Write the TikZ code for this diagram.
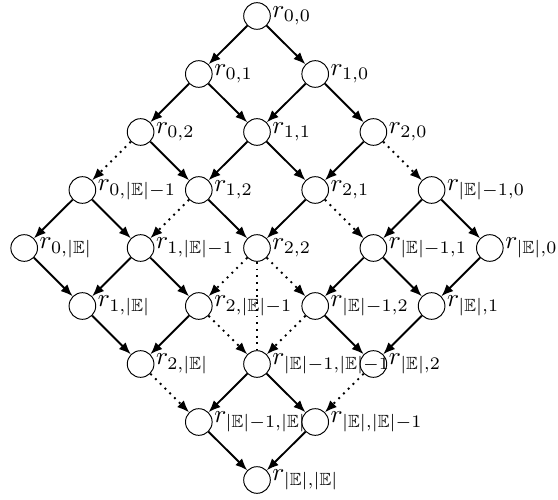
\documentclass[tikz,border=0pt]{standalone}
\usepackage{graphicx}
\usepackage{amssymb}
\usetikzlibrary{arrows.meta}
\newcommand{\EE}{|\mathbb{E}|}
\newcommand{\lab}[1]{\scalebox{1.05}{$#1$}}
\begin{document}
\begin{tikzpicture}[x=0.41667pt,y=-0.41667pt,
  st/.style={circle,draw,line width=0.4pt,minimum size=11.1pt,inner sep=0pt},
  lb/.style={inner sep=0.5pt},
  ar/.style={-{Latex[length=5pt,width=4pt]},thick},
  dt/.style={-{Latex[length=5pt,width=4pt]},thick,dotted},
  dl/.style={thick,dotted}]
\useasboundingbox (0,0) rectangle (558,499);
\node[st,label={[lb]right:\lab{r_{0,0}}}] (n00) at (257,16) {};
\node[st,label={[lb]right:\lab{r_{0,1}}}] (n01) at (198.8,74) {};
\node[st,label={[lb]right:\lab{r_{1,0}}}] (n10) at (315.2,74) {};
\node[st,label={[lb]right:\lab{r_{0,2}}}] (n02) at (140.6,132) {};
\node[st,label={[lb]right:\lab{r_{1,1}}}] (n11) at (257,132) {};
\node[st,label={[lb]right:\lab{r_{2,0}}}] (n20) at (373.4,132) {};
\node[st,label={[lb]right:\lab{r_{0,\EE-1}}}] (n03) at (82.4,190) {};
\node[st,label={[lb]right:\lab{r_{1,2}}}] (n12) at (198.8,190) {};
\node[st,label={[lb]right:\lab{r_{2,1}}}] (n21) at (315.2,190) {};
\node[st,label={[lb]right:\lab{r_{\EE-1,0}}}] (n30) at (431.6,190) {};
\node[st,label={[lb]right:\lab{r_{0,\EE}}}] (n04) at (24.2,248) {};
\node[st,label={[lb]right:\lab{r_{1,\EE-1}}}] (n13) at (140.6,248) {};
\node[st,label={[lb]right:\lab{r_{2,2}}}] (n22) at (257,248) {};
\node[st,label={[lb]right:\lab{r_{\EE-1,1}}}] (n31) at (373.4,248) {};
\node[st,label={[lb]right:\lab{r_{\EE,0}}}] (n40) at (489.8,248) {};
\node[st,label={[lb]right:\lab{r_{1,\EE}}}] (n14) at (82.4,306) {};
\node[st,label={[lb]right:\lab{r_{2,\EE-1}}}] (n23) at (198.8,306) {};
\node[st,label={[lb]right:\lab{r_{\EE-1,2}}}] (n32) at (315.2,306) {};
\node[st,label={[lb]right:\lab{r_{\EE,1}}}] (n41) at (431.6,306) {};
\node[st,label={[lb]right:\lab{r_{2,\EE}}}] (n24) at (140.6,364) {};
\node[st,label={[lb]right:\lab{r_{\EE-1,\EE-1}}}] (n33) at (257,364) {};
\node[st,label={[lb]right:\lab{r_{\EE,2}}}] (n42) at (373.4,364) {};
\node[st,label={[lb]right:\lab{r_{\EE-1,\EE}}}] (n34) at (198.8,422) {};
\node[st,label={[lb]right:\lab{r_{\EE,\EE-1}}}] (n43) at (315.2,422) {};
\node[st,label={[lb]right:\lab{r_{\EE,\EE}}}] (n44) at (257,480) {};
\foreach \a/\b in {n00/n01,n00/n10,n01/n02,n01/n11,n10/n11,n10/n20,
  n02/n12,n11/n12,n11/n21,n20/n21,n03/n04,n03/n13,n12/n22,n21/n22,
  n30/n31,n30/n40,n04/n14,n13/n14,n13/n23,n31/n32,n31/n41,n40/n41,
  n14/n24,n23/n24,n32/n42,n41/n42,n33/n34,n33/n43,n34/n44,n43/n44}
  \draw[ar] (\a) -- (\b);
\foreach \a/\b in {n02/n03,n20/n30,n12/n13,n21/n31,n22/n23,n22/n32,
  n23/n33,n32/n33,n24/n34,n42/n43}
  \draw[dt] (\a) -- (\b);
\draw[dl] (n22) -- (n33);
\end{tikzpicture}
\end{document}
